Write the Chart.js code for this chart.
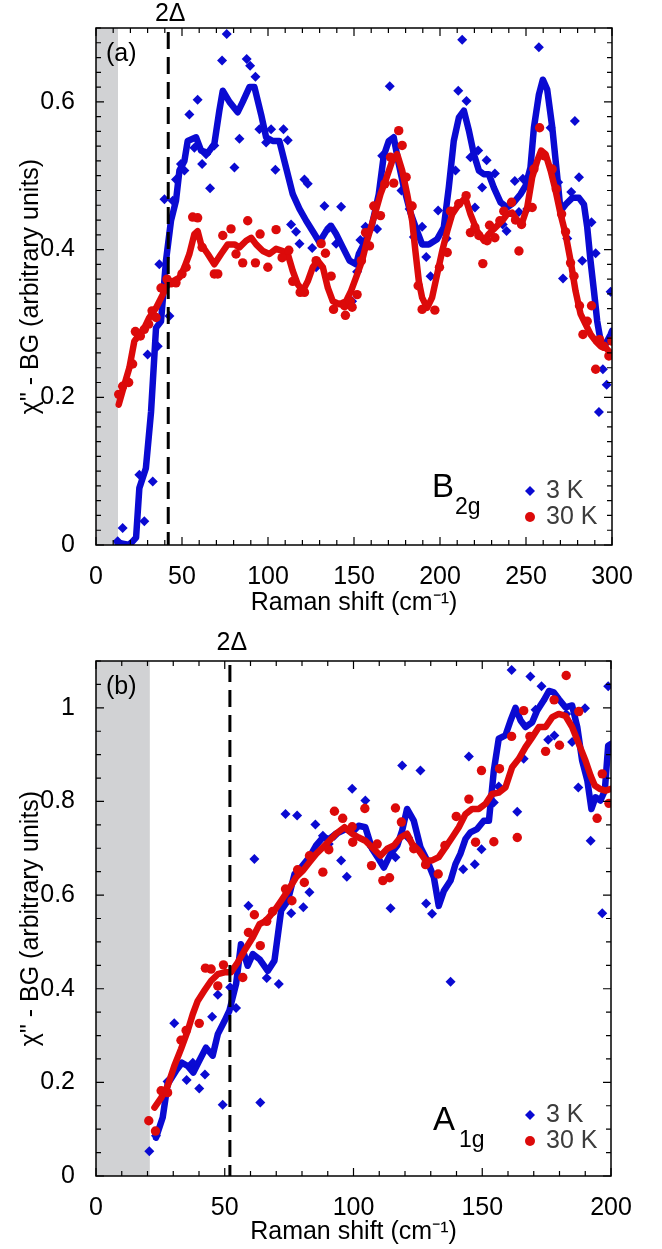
<!DOCTYPE html>
<html>
  <head>
    <script src="https://cdn.jsdelivr.net/npm/chart.js"></script>
    <style>
      body { margin: 0; background: #fff; }
      canvas { position: absolute; left: 0; }
      #chartA { top: 0; }
      #chartB { top: 620px; }
    </style>
  </head>
  <body>
    <canvas id="chartA" width="662" height="620"></canvas>
    <canvas id="chartB" width="662" height="629"></canvas>

    <script>
      // panel (a) B2g : [Raman shift, chi'' - BG]
      const aLine3K = [[12.6,0.003],[19.4,0.0],[23.3,0.01],[25.2,0.077],[29,0.104],[32,0.18],[34.9,0.294],[37.8,0.303],[40.7,0.385],[43.6,0.439],[46.5,0.466],[48.5,0.507],[51.4,0.52],[53.3,0.547],[58.2,0.552],[61.1,0.534],[65,0.531],[68.8,0.543],[71.7,0.588],[73.7,0.615],[77.6,0.6],[82.4,0.586],[85.3,0.6],[89.2,0.62],[92.1,0.62],[96,0.583],[98.9,0.552],[102.8,0.547],[106.6,0.547],[110.5,0.511],[114.4,0.475],[118.3,0.455],[122.2,0.439],[127,0.421],[129.9,0.41],[133.8,0.425],[136.7,0.432],[139.6,0.421],[143.5,0.403],[147.4,0.385],[151.3,0.38],[152.8,0.394],[156.7,0.412],[160.5,0.434],[164.4,0.475],[167.3,0.527],[170.2,0.547],[173.1,0.552],[176,0.516],[179,0.484],[182.8,0.45],[186.7,0.425],[189.6,0.407],[193.5,0.407],[198.3,0.414],[202.2,0.43],[205.1,0.484],[208,0.547],[211,0.579],[213.9,0.588],[216.8,0.561],[219.7,0.529],[222.6,0.507],[225.5,0.502],[228.4,0.502],[231.3,0.484],[235.2,0.464],[239.1,0.457],[243,0.464],[246.8,0.475],[249.7,0.486],[252.6,0.511],[254.6,0.565],[257.5,0.61],[259.8,0.63],[262.3,0.617],[265.3,0.565],[268.2,0.498],[270.1,0.452],[273,0.461],[276.9,0.47],[280.8,0.47],[283.7,0.461],[285.6,0.43],[287.5,0.385],[289.5,0.344],[291.4,0.303],[293.4,0.276],[296.3,0.272],[299.2,0.285],[300,0.29]];
      const aLine30K = [[13.2,0.19],[16.5,0.217],[19.4,0.24],[22.3,0.276],[25.2,0.285],[28.1,0.294],[31,0.308],[34.9,0.321],[38.8,0.339],[41.7,0.353],[44.6,0.357],[48.5,0.362],[51.4,0.376],[54.3,0.394],[57.2,0.421],[59.1,0.425],[61.1,0.407],[65,0.394],[68.8,0.38],[72.7,0.394],[76.6,0.407],[80.5,0.407],[83.4,0.403],[87.3,0.412],[90.2,0.416],[93.1,0.407],[97,0.398],[100.8,0.394],[104.7,0.401],[108.6,0.398],[111.5,0.394],[114.4,0.371],[117.3,0.353],[120.2,0.344],[123.1,0.357],[126,0.376],[128.9,0.385],[131.9,0.376],[134.8,0.348],[137.7,0.33],[141.6,0.326],[145.4,0.33],[148.3,0.344],[151.8,0.366],[154.7,0.385],[157.6,0.412],[161.5,0.443],[165.4,0.475],[168.3,0.493],[172.2,0.52],[175.1,0.529],[178,0.507],[180.9,0.475],[183.8,0.439],[185.7,0.398],[187.7,0.357],[189.6,0.335],[192.5,0.321],[195.4,0.335],[198.3,0.366],[201.3,0.398],[204.2,0.425],[207.1,0.448],[210.9,0.461],[214.8,0.47],[217.7,0.448],[221.6,0.425],[225.5,0.412],[228.4,0.421],[232.3,0.43],[236.2,0.439],[239.1,0.448],[242,0.45],[244.9,0.439],[247.8,0.437],[250.7,0.457],[253.6,0.498],[256.5,0.52],[258.8,0.534],[261.4,0.529],[264.3,0.507],[267.2,0.48],[270.1,0.448],[273,0.421],[275.9,0.385],[278.8,0.344],[281.7,0.313],[284.6,0.299],[287.6,0.285],[290.5,0.276],[293.4,0.269],[296.3,0.267],[299.2,0.26]];
      const aPts3K = [[12.6,0.005],[15.5,0.023],[19.4,0.0],[25.2,0.095],[28.1,0.032],[30,0.258],[33,0.086],[35.9,0.269],[36.8,0.38],[39.8,0.468],[42.7,0.31],[44.6,0.466],[46.5,0.495],[49.4,0.516],[51.4,0.507],[54.3,0.583],[57.2,0.538],[59.1,0.603],[61.7,0.516],[64,0.529],[66.3,0.483],[68.8,0.541],[73.3,0.656],[76,0.692],[80.5,0.511],[83.4,0.55],[87.6,0.658],[89.6,0.649],[92.7,0.634],[95,0.563],[98.9,0.545],[101.8,0.563],[104.3,0.508],[109,0.563],[111.5,0.548],[113.4,0.434],[116.3,0.424],[118.3,0.408],[121.2,0.495],[123.1,0.489],[125.7,0.402],[128,0.376],[132.8,0.459],[135.7,0.43],[139.6,0.408],[142.5,0.458],[148.9,0.33],[151.8,0.37],[153.7,0.413],[156.7,0.431],[159.6,0.428],[163.4,0.428],[166.4,0.527],[170.8,0.621],[177.6,0.48],[182.3,0.455],[184.8,0.417],[189.6,0.431],[192,0.39],[194.5,0.364],[198.9,0.453],[203.8,0.415],[209,0.507],[210.6,0.615],[212.9,0.684],[215.4,0.601],[217.7,0.525],[220.3,0.457],[222.2,0.534],[224.5,0.484],[227.1,0.521],[231.9,0.503],[236.5,0.434],[238.7,0.425],[243.5,0.493],[245.9,0.451],[248.2,0.496],[250.7,0.455],[257.5,0.674],[264.3,0.565],[268.7,0.491],[271.5,0.361],[274,0.415],[276.3,0.478],[278.4,0.574],[280.8,0.498],[282.7,0.385],[288.1,0.437],[290.5,0.395],[292.4,0.18],[294.7,0.238],[296.9,0.217],[299.2,0.343]];
      const aPts30K = [[13.2,0.204],[15.5,0.215],[19,0.22],[21.3,0.245],[22.9,0.289],[25.8,0.283],[28.1,0.292],[30.6,0.299],[32.6,0.317],[34.9,0.308],[37.8,0.348],[41.3,0.36],[43.6,0.355],[46.5,0.355],[50,0.367],[52.4,0.376],[56.2,0.444],[59.1,0.443],[61.7,0.403],[68.8,0.367],[70.8,0.367],[73.7,0.419],[78.5,0.428],[81.4,0.394],[85.3,0.382],[88.2,0.439],[92.7,0.382],[95.4,0.421],[99.9,0.376],[104.7,0.427],[108.2,0.389],[112.1,0.399],[114.4,0.357],[118.7,0.342],[121.2,0.342],[128,0.385],[130.9,0.408],[133.4,0.395],[136.7,0.364],[138.1,0.319],[144.5,0.324],[145,0.311],[147.8,0.33],[148.9,0.322],[151.8,0.339],[154.3,0.385],[156.7,0.423],[159,0.405],[161.5,0.459],[165.4,0.446],[167.9,0.489],[171.2,0.525],[173.1,0.49],[176,0.561],[178,0.541],[180.3,0.498],[183.8,0.459],[187.3,0.351],[189.6,0.319],[197,0.318],[199.7,0.376],[204.2,0.396],[206.1,0.452],[210.9,0.462],[215.2,0.473],[217.7,0.423],[220.3,0.43],[222.6,0.419],[224.9,0.381],[227.4,0.412],[228.8,0.433],[231.9,0.416],[234.8,0.439],[237.1,0.452],[241.6,0.464],[243.9,0.44],[245.9,0.398],[247.4,0.434],[253.6,0.457],[254.6,0.509],[257.9,0.565],[260.4,0.527],[265.2,0.509],[267.6,0.482],[270.7,0.448],[273,0.424],[275.9,0.382],[277.9,0.364],[281.1,0.324],[283.1,0.285],[285.6,0.303],[288.1,0.324],[290.5,0.238],[292.8,0.278],[295.3,0.269],[298.2,0.256],[300,0.276]];

      // panel (b) A1g
      const bLine3K = [[23.3,0.082],[25.9,0.125],[27.8,0.196],[31.1,0.225],[33.4,0.242],[35.6,0.235],[37.8,0.221],[40.1,0.246],[42.7,0.274],[45.3,0.257],[47.3,0.303],[49.9,0.331],[51.8,0.353],[54.4,0.41],[56.3,0.495],[58.9,0.449],[60.9,0.474],[63.5,0.463],[66.7,0.438],[69.3,0.46],[71.9,0.567],[74.5,0.588],[77.1,0.645],[79.6,0.659],[82.9,0.681],[85.5,0.706],[88.1,0.723],[90.6,0.72],[93.2,0.731],[97.1,0.741],[99.5,0.734],[102,0.748],[104.6,0.745],[107.2,0.699],[109.8,0.677],[111.8,0.659],[114.4,0.688],[117,0.706],[118.9,0.738],[120.8,0.784],[123.4,0.759],[126,0.702],[128.6,0.674],[131.2,0.638],[133.1,0.577],[135.1,0.609],[137.7,0.631],[139.6,0.666],[141.5,0.688],[143.5,0.72],[145.4,0.734],[148,0.741],[150.6,0.759],[152.6,0.759],[154.5,0.866],[156.4,0.934],[159,0.941],[161,0.973],[162.9,1.0],[164.9,0.973],[166.8,0.959],[169.4,0.969],[171.3,0.994],[173.9,1.016],[175.9,1.036],[177.8,1.033],[179.7,1.019],[182.3,1.001],[184.9,1.005],[186.9,0.959],[188.8,0.887],[190.8,0.845],[192.4,0.784],[194,0.809],[195.9,0.802],[197.6,0.823],[198.9,0.919],[200,0.923]];
      const bLine30K = [[22.7,0.146],[25.3,0.167],[27.8,0.192],[30.4,0.235],[33,0.271],[35.6,0.31],[37.6,0.346],[39.5,0.374],[42.1,0.396],[44.7,0.417],[47.3,0.431],[49.9,0.435],[52.4,0.435],[55,0.456],[57.6,0.481],[60.9,0.51],[63.5,0.538],[66,0.545],[69.3,0.567],[71.9,0.588],[74.5,0.609],[77.7,0.638],[80.3,0.652],[82.9,0.67],[85.5,0.688],[88.1,0.702],[90.6,0.716],[93.2,0.731],[96.5,0.745],[99.5,0.731],[102,0.723],[104.6,0.716],[107.2,0.702],[110.5,0.684],[113.1,0.699],[115.7,0.706],[118.2,0.723],[120.8,0.731],[122.8,0.709],[125.4,0.695],[128,0.674],[130.5,0.674],[133.1,0.681],[135.7,0.702],[138.3,0.723],[140.9,0.745],[143.5,0.773],[146.1,0.784],[148.7,0.784],[151.3,0.795],[153.8,0.816],[156.4,0.819],[159,0.83],[161.6,0.873],[164.2,0.891],[166.8,0.916],[169.4,0.937],[172,0.959],[174.6,0.959],[177.2,0.98],[179.7,0.987],[182.3,0.983],[184.9,0.959],[187.5,0.923],[190.1,0.887],[192.1,0.855],[193.7,0.834],[195.6,0.827],[197.9,0.823],[200,0.827]];
      const bPts3K = [[20.7,0.053],[23.3,0.086],[27.8,0.202],[30.4,0.326],[35.2,0.205],[37.6,0.242],[40.1,0.187],[42.3,0.217],[45.1,0.34],[47.3,0.387],[49.2,0.152],[52.1,0.403],[54.4,0.359],[59.2,0.577],[61.5,0.677],[63.8,0.157],[66.3,0.423],[71,0.41],[73.6,0.773],[75.8,0.561],[78.1,0.77],[80.5,0.574],[82.9,0.606],[85.2,0.751],[88.1,0.727],[90.4,0.709],[92.6,0.727],[95.2,0.674],[97.4,0.639],[99.5,0.827],[104.6,0.802],[107.2,0.702],[114.4,0.572],[116.3,0.681],[118.9,0.877],[121.2,0.723],[126,0.866],[128.2,0.582],[130.5,0.56],[137.7,0.415],[142.6,0.655],[144.8,0.896],[147.1,0.666],[149.7,0.698],[154.5,0.798],[156.4,0.832],[161.4,1.081],[163.6,0.778],[166.1,0.891],[168.7,1.067],[170.7,0.996],[173,1.046],[175.6,0.932],[178,0.941],[182.6,0.987],[184.9,0.927],[187.3,0.83],[189.9,0.999],[192.1,0.716],[196.6,0.561],[198.9,1.046]];
      const bPts30K = [[20.5,0.118],[23.1,0.096],[25.3,0.182],[27.8,0.178],[33,0.29],[35,0.311],[40.1,0.326],[42.5,0.444],[44.7,0.442],[47.3,0.406],[49.5,0.451],[57,0.424],[59.2,0.52],[61.5,0.558],[63.8,0.492],[66.3,0.544],[68.6,0.565],[73.6,0.613],[76.1,0.588],[78.3,0.654],[80.9,0.627],[82.9,0.684],[88.1,0.649],[90.4,0.697],[92.6,0.779],[95.8,0.764],[99.7,0.713],[99.5,0.746],[104.4,0.785],[107,0.663],[109.2,0.709],[111.4,0.631],[114,0.637],[116.3,0.786],[118.6,0.756],[123.4,0.699],[128,0.665],[132.9,0.645],[135.5,0.706],[139.9,0.768],[144.8,0.805],[147.4,0.713],[149.7,0.866],[154.5,0.714],[156.7,0.87],[161.4,0.939],[163.6,0.723],[166.1,0.994],[168.5,0.939],[174.6,0.907],[177.9,1.017],[180,0.92],[182.6,1.069],[187.5,0.992],[194.6,0.764],[196.6,0.859],[199.2,0.796]];

      const BLUE = '#0a0ad2';
      const RED = '#dc0a0a';
      const FONT = '"Liberation Sans", Arial, sans-serif';

      const toXY = arr => arr.map(p => ({ x: p[0], y: p[1] }));

      // grey band, dashed 2Δ line, inward ticks, frame and in-plot labels
      const decor = {
        id: 'decor',
        beforeDatasetsDraw(chart, args, o) {
          const { ctx, chartArea: a, scales: { x } } = chart;
          ctx.save();
          ctx.fillStyle = '#d1d2d4';
          ctx.fillRect(a.left, a.top, x.getPixelForValue(o.band) - a.left, a.bottom - a.top);
          ctx.restore();
        },
        afterDatasetsDraw(chart, args, o) {
          const { ctx, chartArea: a, scales: { x, y } } = chart;
          ctx.save();
          // dashed gap line
          const gx = x.getPixelForValue(o.gap);
          ctx.strokeStyle = '#000';
          ctx.lineWidth = 3;
          ctx.setLineDash([17, 8]);
          ctx.beginPath();
          ctx.moveTo(gx, a.top + 4);
          ctx.lineTo(gx, a.bottom);
          ctx.stroke();
          ctx.setLineDash([]);

          // frame + ticks
          ctx.lineWidth = 1.5;
          ctx.strokeRect(a.left, a.top, a.right - a.left, a.bottom - a.top);
          ctx.lineWidth = 1.2;
          ctx.beginPath();
          const nx = Math.round((x.max - x.min) / o.xMinor);
          for (let i = 0; i <= nx; i++) {
            const px = x.getPixelForValue(x.min + i * o.xMinor);
            const len = i % o.xEvery === 0 ? 8 : 5;
            ctx.moveTo(px, a.bottom); ctx.lineTo(px, a.bottom - len);
            ctx.moveTo(px, a.top); ctx.lineTo(px, a.top + len);
          }
          const ny = Math.floor((y.max - y.min) / o.yMinor + 1e-6);
          for (let i = 0; i <= ny; i++) {
            const py = y.getPixelForValue(y.min + i * o.yMinor);
            const len = i % o.yEvery === 0 ? 8 : 5;
            ctx.moveTo(a.left, py); ctx.lineTo(a.left + len, py);
            ctx.moveTo(a.right, py); ctx.lineTo(a.right - len, py);
          }
          ctx.stroke();

          // texts
          ctx.fillStyle = '#000';
          ctx.font = '25px ' + FONT;
          ctx.textAlign = 'center';
          ctx.textBaseline = 'middle';
          ctx.fillText('2Δ', gx + 2, o.gapLabelY);
          ctx.textAlign = 'left';
          ctx.fillText(o.panel, a.left + 10, a.top + 26);

          // symmetry label with subscript
          ctx.textBaseline = 'alphabetic';
          ctx.font = '33px ' + FONT;
          ctx.fillText(o.sym[0], o.symX, o.symY);
          ctx.font = '23px ' + FONT;
          ctx.fillText(o.sym[1], o.symX + o.subDx, o.symY + 17);

          // legend
          ctx.fillStyle = '#3c3c3c';
          ctx.font = '25px ' + FONT;
          ctx.textBaseline = 'middle';
          ctx.fillText('3 K', 546, o.legY);
          ctx.fillText('30 K', 546, o.legY + 26);
          ctx.fillStyle = BLUE;
          ctx.beginPath();
          ctx.moveTo(530, o.legY - 5); ctx.lineTo(535, o.legY); ctx.lineTo(530, o.legY + 5); ctx.lineTo(525, o.legY);
          ctx.closePath(); ctx.fill();
          ctx.fillStyle = RED;
          ctx.beginPath();
          ctx.arc(530, o.legY + 26, 5, 0, Math.PI * 2);
          ctx.fill();
          ctx.restore();
        }
      };

      function lineSet(data, color) {
        return { data: toXY(data), showLine: true, borderColor: color, borderWidth: 6.5,
                 pointRadius: 0, borderJoinStyle: 'round', borderCapStyle: 'round' };
      }
      function pointSet(data, color, style) {
        return { data: toXY(data), showLine: false, pointStyle: style, pointRadius: style === 'rectRot' ? 5 : 4.7,
                 pointBackgroundColor: color, pointBorderWidth: 0, backgroundColor: color };
      }

      function makeChart(id, cfg) {
        const tickFont = { family: FONT, size: 25 };
        return new Chart(document.getElementById(id), {
          type: 'scatter',
          data: {
            // drawn last = on top
            datasets: [
              pointSet(cfg.pts30, RED, 'circle'),
              lineSet(cfg.line30, RED),
              pointSet(cfg.pts3, BLUE, 'rectRot'),
              lineSet(cfg.line3, BLUE)
            ]
          },
          options: {
            responsive: false,
            devicePixelRatio: 1,
            animation: false,
            events: [],
            layout: { padding: { top: cfg.padTop, right: cfg.padRight, left: 0, bottom: 0 } },
            plugins: { legend: { display: false }, tooltip: { enabled: false }, decor: cfg.decor },
            scales: {
              x: {
                type: 'linear', min: 0, max: cfg.xMax,
                grid: { display: false }, border: { display: false },
                ticks: { stepSize: 50, includeBounds: false, color: '#000', font: tickFont, padding: 9, maxRotation: 0 },
                title: { display: true, text: 'Raman shift (cm⁻¹)', color: '#000', font: tickFont, padding: { top: 0, bottom: 2 } },
                afterFit: s => { s.height = cfg.xHeight; }
              },
              y: {
                type: 'linear', min: 0, max: cfg.yMax,
                grid: { display: false }, border: { display: false },
                ticks: { stepSize: 0.2, includeBounds: false, color: '#000', font: tickFont, padding: 13,
                         callback: v => String(+v.toFixed(2)) },
                title: { display: true, text: 'χ" - BG (arbitrary units)', color: '#000', font: tickFont, padding: { top: 16, bottom: 0 } },
                afterFit: s => { s.width = 96; }
              }
            }
          },
          plugins: [decor]
        });
      }

      makeChart('chartA', {
        line3: aLine3K, line30: aLine30K, pts3: aPts3K, pts30: aPts30K,
        xMax: 300, yMax: 0.70, padTop: 28, padRight: 50, xHeight: 75,
        decor: { band: 12.8, gap: 42, gapLabelY: 14, panel: '(a)', xMinor: 10, xEvery: 5, yMinor: 0.02, yEvery: 10,
                 sym: ['B', '2g'], symX: 432, symY: 497, subDx: 23, legY: 491 }
      });

      makeChart('chartB', {
        line3: bLine3K, line30: bLine30K, pts3: bPts3K, pts30: bPts30K,
        xMax: 200, yMax: 1.1, padTop: 41, padRight: 51, xHeight: 73,
        decor: { band: 20.9, gap: 52, gapLabelY: 23, panel: '(b)', xMinor: 10, xEvery: 5, yMinor: 0.05, yEvery: 4,
                 sym: ['A', '1g'], symX: 433, symY: 510, subDx: 26, legY: 495 }
      });
    </script>
  </body>
</html>
